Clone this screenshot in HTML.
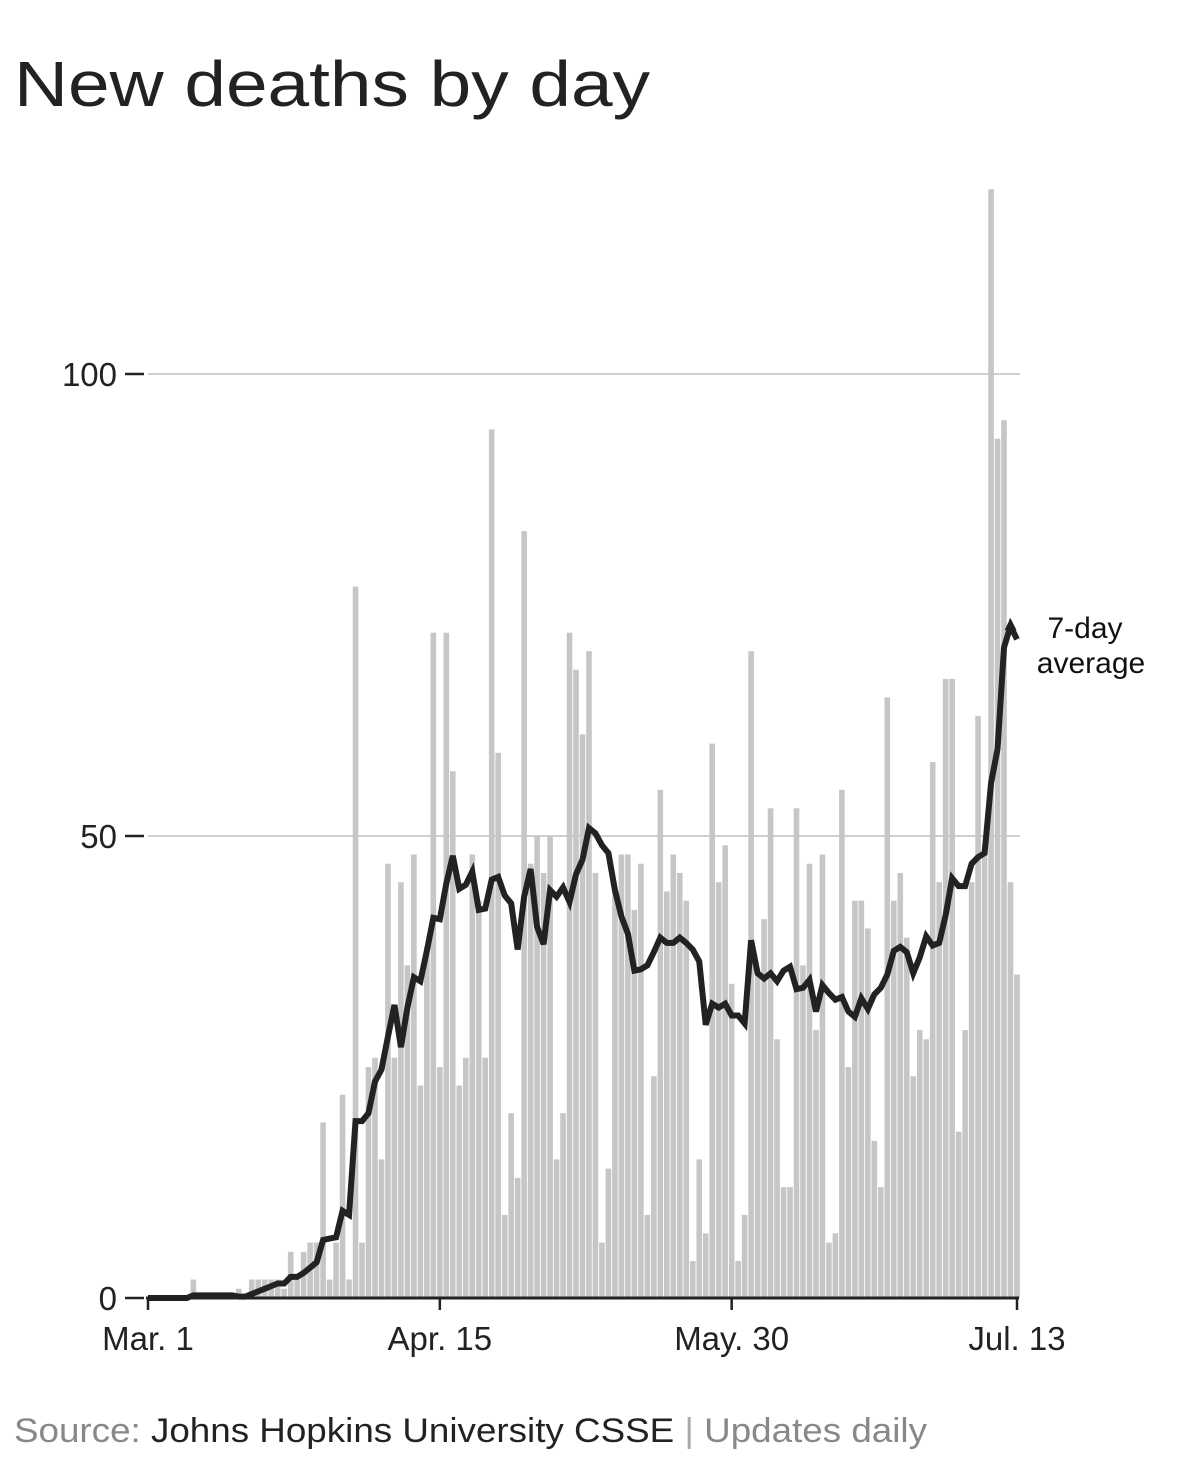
<!DOCTYPE html>
<html><head><meta charset="utf-8"><style>
body{margin:0;background:#fff;width:1180px;height:1478px;overflow:hidden;font-family:"Liberation Sans",sans-serif}
</style></head><body>
<svg width="1180" height="1478" viewBox="0 0 1180 1478">
<text x="14" y="106" font-size="64" fill="#222" textLength="636" lengthAdjust="spacingAndGlyphs">New deaths by day</text>
<g id="grid"></g><g id="bars"></g><g id="axes"></g><g id="line"></g>
<text x="1085" y="638" font-size="30" fill="#111" text-anchor="middle">7-day</text>
<text x="1091" y="673" font-size="30" fill="#111" text-anchor="middle">average</text>
<text x="14" y="1442" font-size="34" textLength="913" lengthAdjust="spacingAndGlyphs"><tspan fill="#888">Source: </tspan><tspan fill="#222">Johns Hopkins University CSSE</tspan><tspan fill="#aaa"> | </tspan><tspan fill="#888">Updates daily</tspan></text>
</svg>
<script>
const deaths=[0,0,0,0,0,0,0,2,0,0,0,0,0,0,1,0,2,2,2,2,2,1,5,2,5,6,6,19,2,6,22,2,77,6,25,26,15,47,26,45,36,48,23,38,
72,25,72,57,23,26,48,43,26,94,59,9,20,13,83,47,50,46,50,15,20,72,68,61,70,46,6,14,44,48,48,42,47,9,24,55,44,48,46,43,4,15,7,60,45,49,
34,4,9,70,35,41,53,28,12,12,53,36,47,29,48,6,7,55,25,43,43,40,17,12,65,43,46,39,24,29,28,58,45,67,67,18,29,45,63,48,120,93,95,45,35];
const yTicks=[0,50,100];
const xTickDays=[0,45,90,134];
const xTickLabels=["Mar. 1","Apr. 15","May. 30","Jul. 13"];
const NS="http://www.w3.org/2000/svg";
const X0=148,X1=1017,Y0=1298,PER=9.24;
const nDays=deaths.length;
function xs(d){return X0+(X1-X0)*d/(nDays-1);}
function ys(v){return Y0-v*PER;}
function mk(t,a,p){const e=document.createElementNS(NS,t);for(const k in a)e.setAttribute(k,a[k]);p.appendChild(e);return e;}
const grid=document.getElementById('grid'),bars=document.getElementById('bars'),axes=document.getElementById('axes'),lineG=document.getElementById('line');
yTicks.forEach(v=>{
 if(v>0){const g=mk('line',{x1:X0,x2:1020,y1:ys(v),y2:ys(v),stroke:'#cfcfcf','stroke-width':2},grid);
 
 }
 const t=mk('line',{x1:125,x2:144,y1:ys(v),y2:ys(v),stroke:'#222','stroke-width':2.5},axes);
 
 
 const l=mk('text',{x:117,y:ys(v)+12,'font-size':33,fill:'#222','text-anchor':'end'},axes);
 l.textContent=v;
 
 
});
deaths.forEach((v,i)=>{
 if(v<=0)return;
 const r=mk('rect',{x:xs(i)-2.8,y:ys(v),width:5.6,height:v*PER,fill:'#c6c6c6'},bars);
 
 
});
const ax=mk('line',{x1:X0-2,x2:X1+2,y1:Y0,y2:Y0,stroke:'#222','stroke-width':3},axes);


xTickDays.forEach((d,k)=>{
 const t=mk('line',{x1:xs(d),x2:xs(d),y1:Y0,y2:Y0+12,stroke:'#222','stroke-width':2.5},axes);
 
 
 const l=mk('text',{x:xs(d),y:1350,'font-size':33,fill:'#222','text-anchor':'middle'},axes);
 l.textContent=xTickLabels[k];
 
 
});
const pts=deaths.map((v,i)=>{let s=0;for(let j=Math.max(0,i-6);j<=i;j++){s+=deaths[j];}return [xs(i),ys(s/7)];});
const p=mk('polyline',{points:pts.map(q=>q.join(',')).join(' '),fill:'none',stroke:'#222','stroke-width':6,'stroke-linejoin':'miter'},lineG);


const last=pts[pts.length-2];
const a=mk('polygon',{points:`${last[0]-6},${last[1]+4} ${last[0]},${last[1]-8} ${last[0]+6},${last[1]+4}`,fill:'#222'},lineG);


</script>
</body></html>
